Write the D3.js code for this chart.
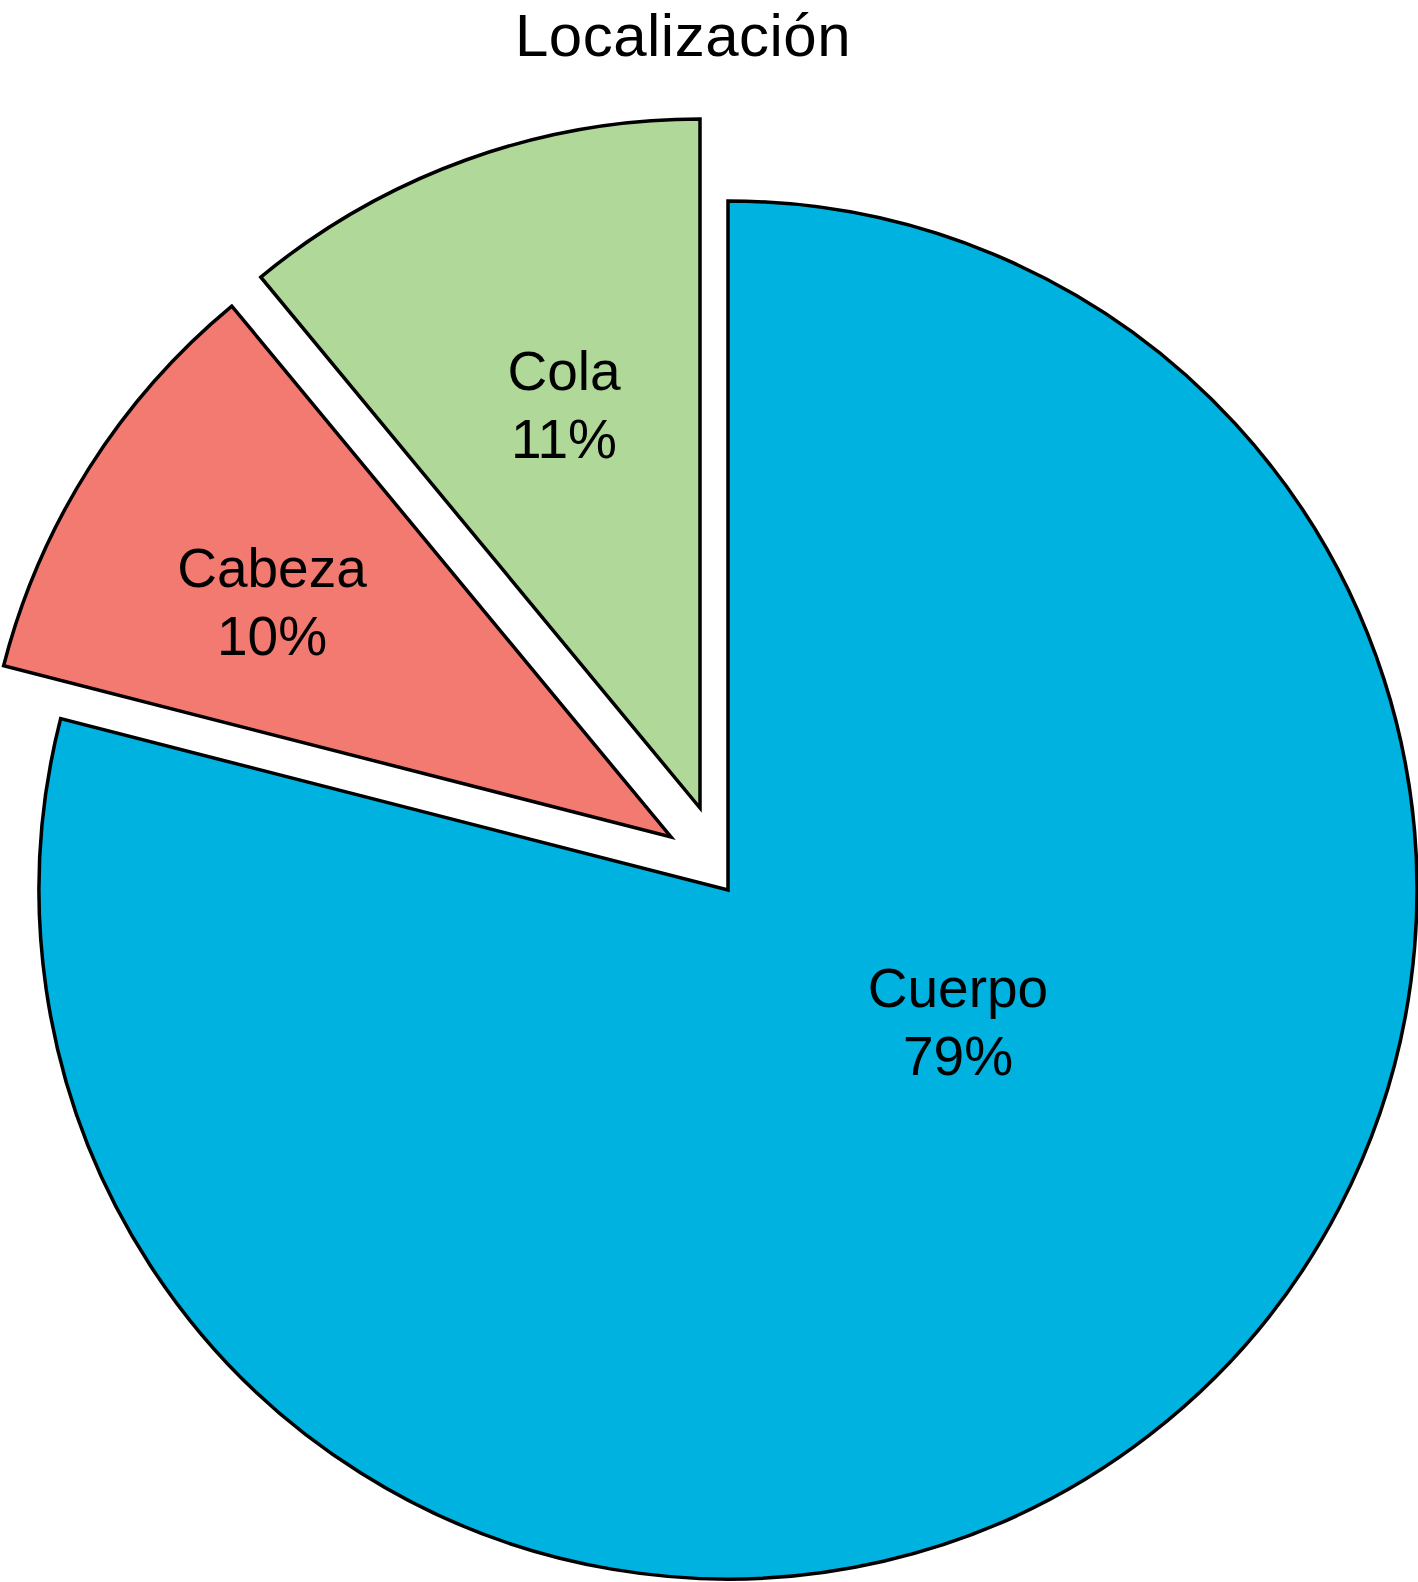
<!doctype html>
<html>
<head>
<meta charset="UTF-8">
<script src="https://d3js.org/d3.v7.min.js"></script>
<style>
body { margin: 0; background: #fff; }
text { font-family: "Liberation Sans", Arial, sans-serif; fill: #000; }
</style>
</head>
<body>
<script>
// datos
var categorias = ["Cuerpo", "Cabeza", "Cola"];
var valores = [79, 10, 11];
var colores = ["#00b2e0", "#f37a71", "#b0d898"];
var titulo = "Localización";

var w = 1418, h = 1582;
var cx = 728, cy = 890, R = 689;

// desplazamiento de cada porcion (explode) y posicion de etiquetas, relativos al centro
var offsets = { Cuerpo: [0, 0], Cabeza: [-57, -53], Cola: [-28, -82] };
var labelPos = { Cuerpo: [230, 117], Cabeza: [-456, -303], Cola: [-164, -500] };

var svg = d3.select("body").append("svg")
    .attr("width", w)
    .attr("height", h);

svg.append("text")
    .attr("x", 683)
    .attr("y", 56)
    .attr("text-anchor", "middle")
    .style("font-size", "60px")
    .style("letter-spacing", "0.5px")
    .text(titulo);

var datos = categorias.map(function(c, i) { return { cat: c, val: valores[i], color: colores[i] }; });

var pie = d3.pie().sort(null).value(function(d) { return d.val; });
var arc = d3.arc().innerRadius(0).outerRadius(R);

var g = svg.selectAll("g.slice")
    .data(pie(datos))
    .enter().append("g")
    .attr("class", "slice")
    .attr("transform", function(d) {
        var o = offsets[d.data.cat];
        return "translate(" + (cx + o[0]) + "," + (cy + o[1]) + ")";
    });

g.append("path")
    .attr("d", arc)
    .attr("fill", function(d) { return d.data.color; })
    .attr("stroke", "#000")
    .attr("stroke-width", 3.5)
    .attr("stroke-linejoin", "miter");

var lab = svg.selectAll("text.lbl")
    .data(pie(datos))
    .enter().append("text")
    .attr("class", "lbl")
    .attr("text-anchor", "middle")
    .style("font-size", "55px");

lab.each(function(d) {
    var p = labelPos[d.data.cat];
    var t = d3.select(this);
    t.append("tspan").attr("x", cx + p[0]).attr("y", cy + p[1]).text(d.data.cat);
    t.append("tspan").attr("x", cx + p[0]).attr("y", cy + p[1] + 68).text(d.data.val + "%");
});
</script>
</body>
</html>
